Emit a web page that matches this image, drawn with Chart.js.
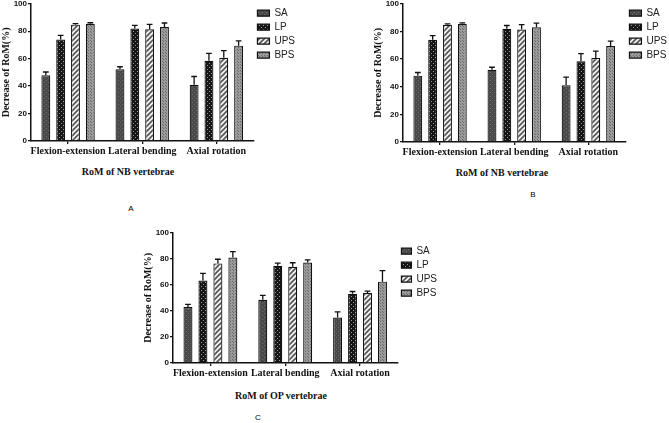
<!DOCTYPE html>
<html lang="en">
<head>
  <meta charset="UTF-8" />
  <title>Decrease of RoM</title>
  <script src="https://cdn.jsdelivr.net/npm/chart.js"></script>
  <style>
    body { margin: 0; background: #fff; }
    #page { position: relative; width: 669px; height: 423px; overflow: hidden; background: #fff; }
    .panel { position: absolute; }
    .xtitle {
      position: absolute;
      font-family: "Liberation Serif", serif;
      font-weight: bold;
      font-size: 10px;
      color: #111;
      transform: translateX(-50%);
      white-space: nowrap;
    }
    .letter {
      position: absolute;
      font-family: "Liberation Sans", Arial, sans-serif;
      font-size: 8px;
      color: #000;
      transform: translateX(-50%);
    }
  </style>
</head>
<body>
  <div id="page">
    <canvas id="chartA" class="panel" width="305" height="162" style="left:0;top:-2px"></canvas>
    <canvas id="chartB" class="panel" width="305" height="163" style="left:372px;top:-2px"></canvas>
    <canvas id="chartC" class="panel" width="305" height="155" style="left:142px;top:227px"></canvas>

    <div class="xtitle" style="left:128px;top:166px">RoM of NB vertebrae</div>
    <div class="xtitle" style="left:502px;top:167px">RoM of NB vertebrae</div>
    <div class="xtitle" style="left:281px;top:390px">RoM of OP vertebrae</div>

    <div class="letter" style="left:131px;top:204px">A</div>
    <div class="letter" style="left:533px;top:190px">B</div>
    <div class="letter" style="left:258px;top:413px">C</div>
  </div>

  <script>
    const categories = ["Flexion-extension", "Lateral bending", "Axial rotation"];
    const groups = ["SA", "LP", "UPS", "BPS"];

    // NB vertebrae (panels A and B show the same data)
    const nbSA = [48, 52.3, 41];
    const nbLP = [74, 82, 58.5];
    const nbUPS = [84.8, 81.4, 60.7];
    const nbBPS = [85.5, 83, 69.5];
    const nbSAErr = [2.3, 1.8, 6];
    const nbLPErr = [3, 2.3, 5.4];
    const nbUPSErr = [0.7, 3.6, 5.1];
    const nbBPSErr = [0.7, 3, 3.5];

    // OP vertebrae (panel C)
    const opSA = [43, 48.6, 35];
    const opLP = [63.3, 74.7, 53.2];
    const opUPS = [76.5, 73.9, 53.7];
    const opBPS = [81, 77.2, 62.5];
    const opSAErr = [2, 3.3, 4.2];
    const opLPErr = [5.6, 2, 1.7];
    const opUPSErr = [3.2, 3.1, 1.5];
    const opBPSErr = [4.6, 2, 8.4];

    Chart.defaults.font.family = "'Liberation Sans', Arial, sans-serif";
    Chart.defaults.color = "#111";

    // fill patterns like the printed figure
    function makePattern(kind) {
      const c = document.createElement("canvas");
      const x = c.getContext("2d");
      if (kind === "SA") {
        c.width = c.height = 4;
        x.fillStyle = "#4a4a4a"; x.fillRect(0, 0, 4, 4);
        x.fillStyle = "#6c6c6c"; x.fillRect(0, 0, 1, 1); x.fillRect(2, 2, 1, 1);
      } else if (kind === "LP") {
        c.width = c.height = 4;
        x.fillStyle = "#151515"; x.fillRect(0, 0, 4, 4);
        x.fillStyle = "#9a9a9a"; x.fillRect(1, 1, 1, 1); x.fillRect(3, 3, 1, 1);
      } else if (kind === "UPS") {
        c.width = c.height = 5;
        x.fillStyle = "#f2f2f2"; x.fillRect(0, 0, 5, 5);
        x.strokeStyle = "#555"; x.lineWidth = 1.6;
        x.beginPath();
        x.moveTo(-1, 6); x.lineTo(6, -1);
        x.moveTo(-1, 1); x.lineTo(1, -1);
        x.moveTo(4, 6); x.lineTo(6, 4);
        x.stroke();
      } else {
        c.width = c.height = 3;
        x.fillStyle = "#9a9a9a"; x.fillRect(0, 0, 3, 3);
        x.fillStyle = "#6a6a6a"; x.fillRect(0, 0, 1, 1); x.fillRect(1, 1, 1, 1);
      }
      return x.createPattern(c, "repeat");
    }

    const fills = groups.map(makePattern);

    // upward error bars with caps, positioned with the chart's own scales
    const errorBars = {
      id: "errorBars",
      afterDatasetsDraw(chart) {
        const ctx = chart.ctx;
        const y = chart.scales.y;
        ctx.save();
        ctx.strokeStyle = "#111";
        ctx.lineWidth = 1.3;
        chart.data.datasets.forEach((ds, i) => {
          const meta = chart.getDatasetMeta(i);
          meta.data.forEach((bar, j) => {
            const top = y.getPixelForValue(ds.data[j] + ds.errors[j]);
            const half = bar.width * 0.32;
            ctx.beginPath();
            ctx.moveTo(bar.x, bar.y);
            ctx.lineTo(bar.x, top);
            ctx.moveTo(bar.x - half, top);
            ctx.lineTo(bar.x + half, top);
            ctx.stroke();
          });
        });
        ctx.restore();
      }
    };

    function makePanel(id, series, errors, legendGap, legendBox) {
      const datasets = groups.map((g, i) => ({
        label: g,
        data: series[i],
        errors: errors[i],
        backgroundColor: fills[i],
        borderColor: "#111",
        borderWidth: 1.2,
        categoryPercentage: 0.8,
        barPercentage: 0.6
      }));

      return new Chart(document.getElementById(id), {
        type: "bar",
        data: { labels: categories, datasets: datasets },
        options: {
          responsive: false,
          animation: false,
          layout: { padding: 0 },
          plugins: {
            legend: {
              position: "right",
              align: "start",
              title: {
                display: true,
                text: " ",
                padding: legendGap,
                font: { size: 1 }
              },
              labels: {
                boxWidth: legendBox,
                boxHeight: 6,
                padding: 4,
                color: "#222",
                font: { size: 10 }
              }
            },
            tooltip: { enabled: false }
          },
          scales: {
            x: {
              grid: { display: true, drawOnChartArea: false, offset: false, tickLength: 3, color: "#111", lineWidth: 1.3 },
              border: { display: true, color: "#111", width: 1.5 },
              ticks: {
                padding: 1,
                color: "#111",
                autoSkip: false,
                maxRotation: 0,
                minRotation: 0,
                font: { family: "'Liberation Serif', serif", weight: "bold", size: 10 }
              },
              afterFit(scale) { scale.height = 19; }
            },
            y: {
              min: 0,
              max: 100,
              ticks: {
                stepSize: 20,
                padding: 1,
                color: "#111",
                font: { weight: "bold", size: 8 }
              },
              grid: { display: true, drawOnChartArea: false, tickLength: 3, color: "#111", lineWidth: 1.3 },
              border: { display: true, color: "#111", width: 1.5 },
              title: {
                display: true,
                text: "Decrease of RoM(%)",
                color: "#111",
                padding: 0,
                font: { family: "'Liberation Serif', serif", weight: "bold", size: 10 }
              },
              afterFit(scale) { scale.width = 31; }
            }
          }
        },
        plugins: [errorBars]
      });
    }

    makePanel("chartA", [nbSA, nbLP, nbUPS, nbBPS], [nbSAErr, nbLPErr, nbUPSErr, nbBPSErr], 2.5, 12);
    makePanel("chartB", [nbSA, nbLP, nbUPS, nbBPS], [nbSAErr, nbLPErr, nbUPSErr, nbBPSErr], 2.5, 12);
    makePanel("chartC", [opSA, opLP, opUPS, opBPS], [opSAErr, opLPErr, opUPSErr, opBPSErr], 7, 10);
  </script>
</body>
</html>
